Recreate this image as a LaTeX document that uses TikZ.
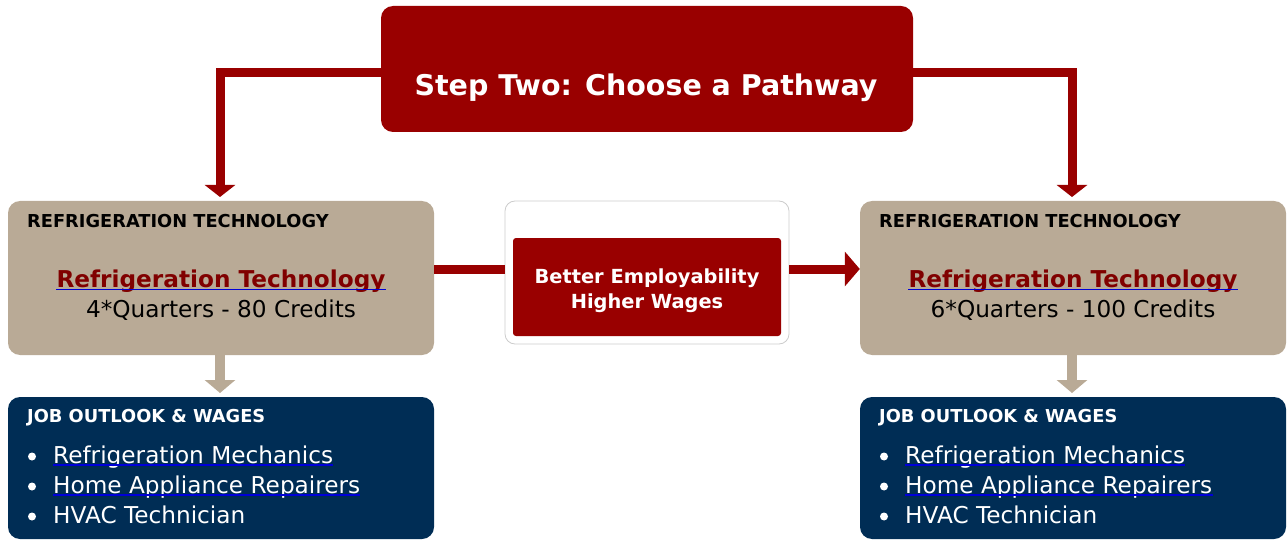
\documentclass[tikz,border=0pt]{standalone}
\usepackage{fontspec}
\setmainfont{DejaVu Sans}
\usetikzlibrary{arrows.meta}
\definecolor{dred}{HTML}{990000}
\definecolor{linkred}{HTML}{800000}
\definecolor{tan}{HTML}{B9AA96}
\definecolor{navy}{HTML}{002D55}
\definecolor{ulblue}{HTML}{0000D8}
\tikzset{
  redbox/.style={fill=dred, draw=none, rounded corners=12pt},
  tanbox/.style={fill=tan, draw=none, rounded corners=12pt},
  navybox/.style={fill=navy, draw=none, rounded corners=12pt},
  whitebox/.style={fill=white, draw=black!20, line width=0.8pt, rounded corners=10pt},
  redconn/.style={draw=dred, line width=9pt},
  redarrow/.style={redconn, -{Triangle[width=30pt,length=12pt]}},
  tanarrow/.style={draw=tan, line width=10pt, -{Triangle[width=30pt,length=13pt]}},
  hdr/.style={font=\bfseries\fontsize{17.8}{20}\selectfont, anchor=base west, inner sep=0},
  txt/.style={font=\fontsize{23.2}{26}\selectfont, inner sep=0},
  ul/.style={draw=ulblue, line width=1.6pt},
}
\begin{document}
\begin{tikzpicture}[x=1pt,y=-1pt]
\useasboundingbox (0,0) rectangle (1287,540);
\clip (0,0) rectangle (1287,540);
% boxes
\node[redbox, minimum width=532pt, minimum height=126pt] (title) at (647,69) {};
\node[font=\bfseries\fontsize{28.5}{32}\selectfont, text=white, anchor=base, inner sep=0] (ttext) at (646,96) {Step Two: Choose a Pathway};

\node[tanbox, minimum width=426pt, minimum height=154pt] (lbox) at (221,278) {};
\node[tanbox, minimum width=426pt, minimum height=154pt] (rbox) at (1073,278) {};

\node[whitebox, minimum width=284pt, minimum height=143pt] (mbox) at (647,272.5) {};
\fill[dred, rounded corners=3pt] (513,238) rectangle (781,336);
\node[font=\bfseries\fontsize{19.4}{22}\selectfont, text=white, anchor=base, inner sep=0] (mt1) at (647,283) {Better Employability};
\node[font=\bfseries\fontsize{19.4}{22}\selectfont, text=white, anchor=base, inner sep=0] (mt2) at (647,308) {Higher Wages};

\node[navybox, minimum width=426pt, minimum height=142pt] (lnavy) at (221,468) {};
\node[navybox, minimum width=426pt, minimum height=142pt] (rnavy) at (1073,468) {};

% connectors
\coordinate (lc) at (220,73);
\coordinate (rc) at (1072,73);
\coordinate (le) at (220,197);
\coordinate (re) at (1072,197);
\draw[redarrow] (title.west |- lc) -- (lc) -- (le);
\draw[redarrow] (title.east |- rc) -- (rc) -- (re);
\draw[redconn] (lbox.east |- 0,269) -- (mbox.west |- 0,269);
\draw[redconn, -{Triangle[width=34pt,length=15pt]}] (mbox.east |- 0,269) -- (rbox.west |- 0,269);
\draw[tanarrow] (lbox.south -| 220,0) -- (220,393);
\draw[tanarrow] (rbox.south -| 1072,0) -- (1072,393);

% tan box texts
\foreach \x/\cx/\n/\q in {27/221/l/4*Quarters - 80 Credits,879/1073/r/6*Quarters - 100 Credits}{
  \node[hdr] (\n h) at (\x,227) {REFRIGERATION TECHNOLOGY};
  \node[txt, font=\bfseries\fontsize{23.2}{26}\selectfont, text=linkred, anchor=base] (\n l) at (\cx,287) {Refrigeration Technology};
  \draw[ul] ([yshift=-2.3pt]\n l.base west) -- ([yshift=-2.3pt]\n l.base east);
  \node[txt, anchor=base] (\n q) at (\cx,317) {\q};
}

% navy texts
\foreach \x/\n in {27/l,879/r}{
  \node[hdr, text=white] (\n jh) at (\x,422) {JOB OUTLOOK \& WAGES};
  \fill[white] (\x+5,456.5) circle (4pt);
  \fill[white] (\x+5,486.5) circle (4pt);
  \fill[white] (\x+5,516.5) circle (4pt);
  \node[txt, text=white, anchor=base west] (\n j1) at (\x+26,463) {Refrigeration Mechanics};
  \draw[ul] ([yshift=-1.8pt]\n j1.base west) -- ([yshift=-1.8pt]\n j1.base east);
  \node[txt, text=white, anchor=base west] (\n j2) at (\x+26,493) {Home Appliance Repairers};
  \draw[ul] ([yshift=-1.8pt]\n j2.base west) -- ([yshift=-1.8pt]\n j2.base east);
  \node[txt, text=white, anchor=base west] (\n j3) at (\x+26,523) {HVAC Technician};
}
\end{tikzpicture}
\end{document}
